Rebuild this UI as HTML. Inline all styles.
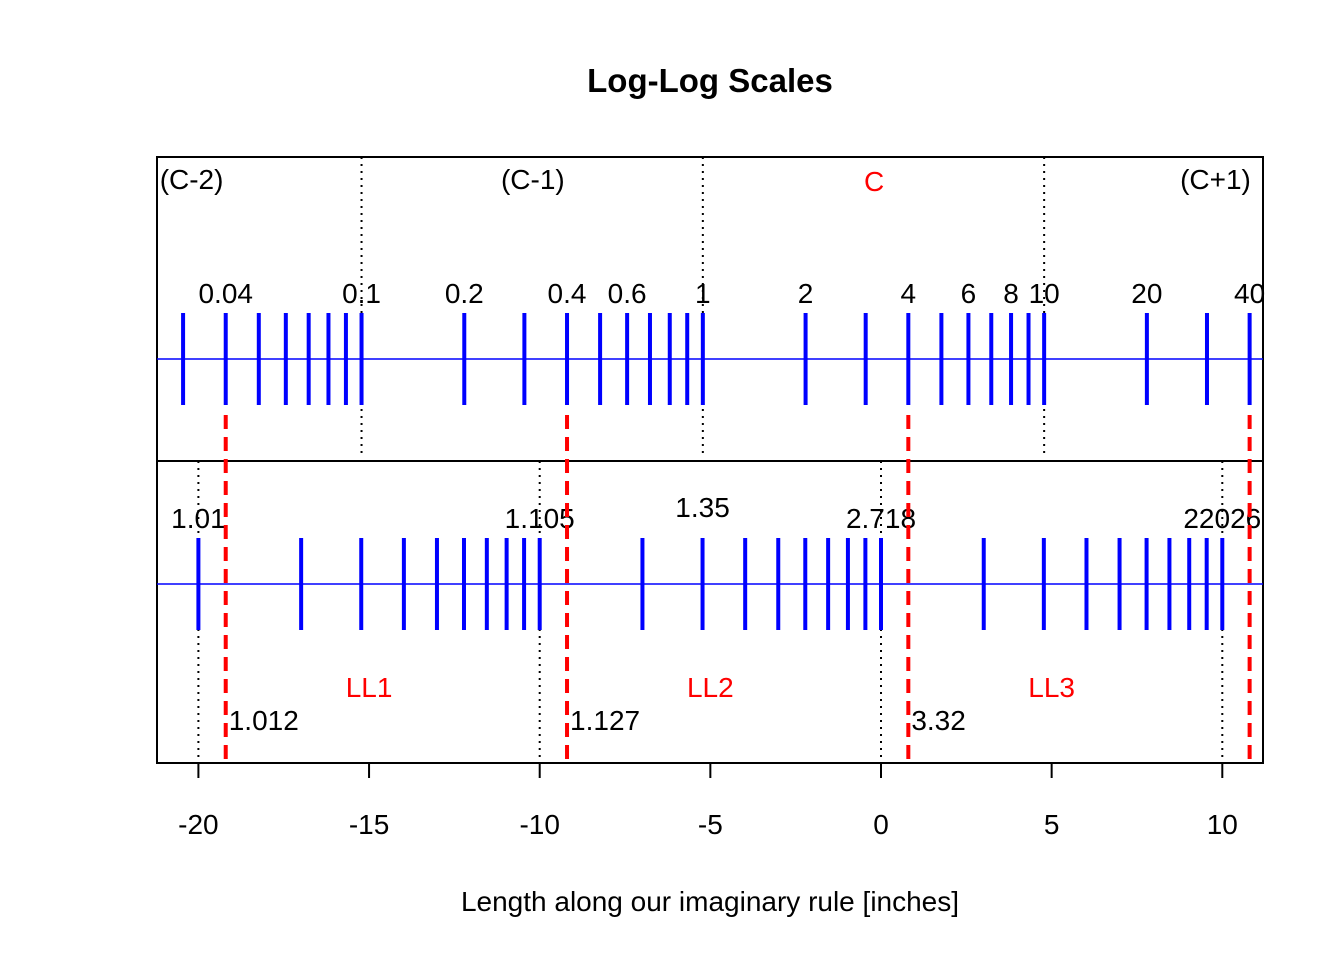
<!DOCTYPE html>
<html><head><meta charset="utf-8"><style>
body{margin:0;background:#fff}
svg text{font-family:"Liberation Sans",Arial,sans-serif}
</style></head><body>
<svg id="c" width="1344" height="960" xmlns="http://www.w3.org/2000/svg">
<text x="710" y="92" text-anchor="middle" font-size="33" font-weight="bold">Log-Log Scales</text>
<rect x="157" y="157" width="1106" height="606" fill="none" stroke="#000" stroke-width="2"/>
<line x1="157" y1="461" x2="1263" y2="461" stroke="#000" stroke-width="2"/>
<text x="710" y="911" text-anchor="middle" font-size="28">Length along our imaginary rule [inches]</text>
<g id="g"></g>
</svg>
<script>
const xTicks=[-20,-15,-10,-5,0,5,10];
const cTickValues=[0.03,0.04,0.05,0.06,0.07,0.08,0.09,0.1,0.2,0.3,0.4,0.5,0.6,0.7,0.8,0.9,1,2,3,4,5,6,7,8,9,10,20,30,40];
const cLabels=["0.04","0.1","0.2","0.4","0.6","1","2","4","6","8","10","20","40"];
const llLnValues=[0.01,0.02,0.03,0.04,0.05,0.06,0.07,0.08,0.09,0.1,0.2,0.3,0.4,0.5,0.6,0.7,0.8,0.9,1,2,3,4,5,6,7,8,9,10];
const llLabels=["1.01","1.105","2.718","22026"];
const llLabelLn=[0.01,0.1,1,10];
const midLabel=["1.35"];const midLabelLn=[0.3];
const redC=[0.04,0.4,4,40];
const redLL=["1.012","1.127","3.32"];
const decadeNames=["(C-2)","(C-1)","C","(C+1)"];
const decadeCenters=[-20.2,-10.2,-0.2,9.8];
const llNames=["LL1","LL2","LL3"];const llCenters=[-15,-5,5];
const cDividers=[0.1,1,10];const llDividers=[-20,-10,0,10];
const OFF=-5.22;
const X=u=>881+34.13*u;
const uC=v=>10*Math.log10(v)+OFF;
const uLL=l=>10*Math.log10(l);
const g=document.getElementById('g');
function mk(t,a,txt){const e=document.createElementNS('http://www.w3.org/2000/svg',t);for(const k in a)e.setAttribute(k,a[k]);if(txt!=null)e.textContent=txt;g.appendChild(e);return e;}
let e;
// axis
e=mk('line',{x1:X(-20),x2:X(10),y1:763,y2:763,stroke:'#000','stroke-width':2});


xTicks.forEach(t=>{
 e=mk('line',{x1:X(t),x2:X(t),y1:763,y2:778,stroke:'#000','stroke-width':2});
 
 
 e=mk('text',{x:X(t),y:834,'text-anchor':'middle','font-size':28},String(t));
 
 
});
// dotted dividers
cDividers.forEach(v=>{
 e=mk('line',{x1:X(uC(v)),x2:X(uC(v)),y1:157,y2:455,stroke:'#000','stroke-width':2,'stroke-dasharray':'2,5'});
 
 
});
llDividers.forEach(u=>{
 e=mk('line',{x1:X(u),x2:X(u),y1:461,y2:763,stroke:'#000','stroke-width':2,'stroke-dasharray':'2,5'});
 
 
});
// base lines
e=mk('line',{x1:157,x2:1263,y1:359,y2:359,stroke:'#00f','stroke-width':1.5});


e=mk('line',{x1:157,x2:1263,y1:584,y2:584,stroke:'#00f','stroke-width':1.5});


cTickValues.forEach(v=>{
 e=mk('line',{x1:X(uC(v)),x2:X(uC(v)),y1:313,y2:405,stroke:'#00f','stroke-width':4});
 
 
});
cLabels.forEach(s=>{
 e=mk('text',{x:X(uC(parseFloat(s))),y:303,'text-anchor':'middle','font-size':28},s);
 
 
});
llLnValues.forEach(l=>{
 e=mk('line',{x1:X(uLL(l)),x2:X(uLL(l)),y1:538,y2:630,stroke:'#00f','stroke-width':4});
 
 
});
llLabels.forEach((s,i)=>{
 e=mk('text',{x:X(uLL(llLabelLn[i])),y:528,'text-anchor':'middle','font-size':28},s);
 
 
});
midLabel.forEach((s,i)=>{
 e=mk('text',{x:X(uLL(midLabelLn[i])),y:517,'text-anchor':'middle','font-size':28},s);
 
 
});
redC.forEach((v,i)=>{
 const x=X(uC(v));
 e=mk('line',{x1:x,x2:x,y1:415,y2:763,stroke:'#f00','stroke-width':4,'stroke-dasharray':'14,8'});
 
 
 if(i<redLL.length){
  e=mk('text',{x:x+3,y:730,'font-size':28},redLL[i]);
  
  
 }
});
decadeNames.forEach((s,i)=>{
 e=mk('text',{x:X(decadeCenters[i]),y:i==2?191:189,'text-anchor':'middle','font-size':28,fill:i==2?'#f00':'#000'},s);
 
 
});
llNames.forEach((s,i)=>{
 e=mk('text',{x:X(llCenters[i]),y:697,'text-anchor':'middle','font-size':28,fill:'#f00'},s);
 
 
});
</script>
</body></html>
